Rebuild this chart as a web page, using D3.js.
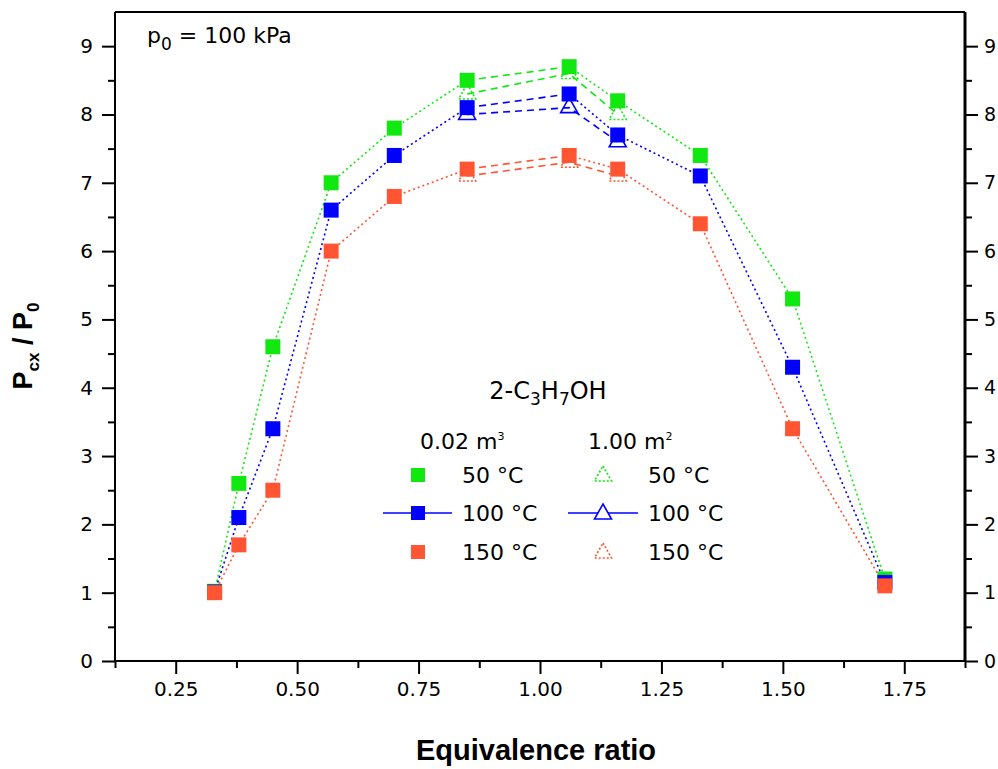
<!DOCTYPE html>
<html>
<head>
<meta charset="utf-8">
<script src="https://cdn.jsdelivr.net/npm/d3@7/dist/d3.min.js"></script>
<style>
  html, body { margin: 0; padding: 0; background: #fff; }
  svg { display: block; }
  text { font-family: "DejaVu Sans", sans-serif; fill: #000; }
</style>
</head>
<body>
<svg id="chart" width="998" height="769"></svg>
<script>
// ---- data ----
const phi = [0.33, 0.38, 0.45, 0.57, 0.70, 0.85, 1.06, 1.16, 1.33, 1.52, 1.71];
const sq50  = [1.02, 2.6, 4.6, 7.0, 7.8, 8.5, 8.7, 8.2, 7.4, 5.3, 1.2];
const sq100 = [1.01, 2.1, 3.4, 6.6, 7.4, 8.1, 8.3, 7.7, 7.1, 4.3, 1.15];
const sq150 = [1.0, 1.7, 2.5, 6.0, 6.8, 7.2, 7.4, 7.2, 6.4, 3.4, 1.1];

const phiTri = [0.85, 1.06, 1.16];
const tri50  = [8.3, 8.6, 8.0];
const tri100 = [8.0, 8.1, 7.6];
const tri150 = [7.1, 7.3, 7.1];

const xTicks = [0.25, 0.50, 0.75, 1.00, 1.25, 1.50, 1.75];
const xMinor = [0.125, 0.375, 0.625, 0.875, 1.125, 1.375, 1.625, 1.875];
const yTicks = [0, 1, 2, 3, 4, 5, 6, 7, 8, 9];
const yMinor = [0.5, 1.5, 2.5, 3.5, 4.5, 5.5, 6.5, 7.5, 8.5];

const temps = ["50 °C", "100 °C", "150 °C"];
const colors = ["#10e810", "#0000ff", "#ff5533"];

// ---- layout ----
const svg = d3.select("#chart");
const L = 115, R = 965, T = 12, B = 661;
const x = d3.scaleLinear().domain([0.125, 1.875]).range([L, R]);
const y = d3.scaleLinear().domain([0, 9.5]).range([B, T]);

// axes
function styleAxis(g, fs) {
  g.select(".domain").remove();
  g.selectAll(".tick line").attr("stroke", "#000").attr("stroke-width", 2);
  g.selectAll(".tick text").style("font-family", "'DejaVu Sans', sans-serif").style("font-size", fs + "px").attr("fill", "#000");
}
const gx = svg.append("g").attr("transform", `translate(0,${B})`)
  .call(d3.axisBottom(x).tickValues(xTicks).tickFormat(d3.format(".2f")).tickSize(13).tickPadding(8));
styleAxis(gx, 20);
const gxm = svg.append("g").attr("transform", `translate(0,${B})`)
  .call(d3.axisBottom(x).tickValues(xMinor).tickFormat("").tickSize(7));
styleAxis(gxm, 20);

const gy = svg.append("g").attr("transform", `translate(${L},0)`)
  .call(d3.axisLeft(y).tickValues(yTicks).tickSize(13).tickPadding(9));
styleAxis(gy, 20);
const gym = svg.append("g").attr("transform", `translate(${L},0)`)
  .call(d3.axisLeft(y).tickValues(yMinor).tickFormat("").tickSize(7));
styleAxis(gym, 20);

const gr = svg.append("g").attr("transform", `translate(${R},0)`)
  .call(d3.axisRight(y).tickValues(yTicks).tickSize(13).tickPadding(6));
styleAxis(gr, 19);
const grm = svg.append("g").attr("transform", `translate(${R},0)`)
  .call(d3.axisRight(y).tickValues(yMinor).tickFormat("").tickSize(7));
styleAxis(grm, 20);

// frame lines
svg.append("line").attr("x1", L).attr("x2", R).attr("y1", B).attr("y2", B).attr("stroke", "#000").attr("stroke-width", 2);
svg.append("line").attr("x1", L).attr("x2", R).attr("y1", T).attr("y2", T).attr("stroke", "#000").attr("stroke-width", 2);
svg.append("line").attr("x1", L).attr("x2", L).attr("y1", T).attr("y2", B).attr("stroke", "#000").attr("stroke-width", 2);
svg.append("line").attr("x1", R).attr("x2", R).attr("y1", T).attr("y2", B).attr("stroke", "#000").attr("stroke-width", 3);

// ---- series ----
const sqSeries = [sq50, sq100, sq150];
const triSeries = [tri50, tri100, tri150];
const plot = svg.append("g");

sqSeries.forEach((vals, k) => {
  for (let i = 0; i < phi.length - 1; i++) {
    const dashed = phi[i] >= 0.85 && phi[i + 1] <= 1.06;
    plot.append("line")
      .attr("x1", x(phi[i])).attr("y1", y(vals[i]))
      .attr("x2", x(phi[i + 1])).attr("y2", y(vals[i + 1]))
      .attr("stroke", colors[k]).attr("stroke-width", 1.6)
      .attr("stroke-dasharray", dashed ? "7,5" : "2,3");
  }
});
triSeries.forEach((vals, k) => {
  plot.append("path")
    .datum(vals.map((v, i) => [phiTri[i], v]))
    .attr("d", d3.line().x(d => x(d[0])).y(d => y(d[1])))
    .attr("fill", "none").attr("stroke", colors[k]).attr("stroke-width", 1.6)
    .attr("stroke-dasharray", "7,5");
});

const sq = 15;
sqSeries.forEach((vals, k) => {
  plot.selectAll(null).data(vals.map((v, i) => [phi[i], v])).enter()
    .append("rect")
    .attr("x", d => x(d[0]) - sq / 2).attr("y", d => y(d[1]) - sq / 2)
    .attr("width", sq).attr("height", sq)
    .attr("fill", colors[k]);
});

const triPath = "M0,-10L8.5,5L-8.5,5Z";
triSeries.forEach((vals, k) => {
  plot.selectAll(null).data(vals.map((v, i) => [phiTri[i], v])).enter()
    .append("path")
    .attr("d", triPath)
    .attr("transform", d => `translate(${x(d[0])},${y(d[1])})`)
    .attr("fill", "none").attr("stroke", colors[k]).attr("stroke-width", 1.6)
    .attr("stroke-dasharray", k === 1 ? null : "2,2");
});

// ---- annotations ----
const p0 = svg.append("text").attr("x", 147).attr("y", 43).style("font-size", "22px");
p0.append("tspan").text("p");
p0.append("tspan").attr("dy", 7).style("font-size", "17px").text("0");
p0.append("tspan").attr("dy", -7).text(" = 100 kPa");

const title = svg.append("text").attr("x", 548).attr("y", 399).attr("text-anchor", "middle").style("font-size", "24px");
title.append("tspan").text("2-C");
title.append("tspan").attr("dy", 6).style("font-size", "17px").text("3");
title.append("tspan").attr("dy", -6).text("H");
title.append("tspan").attr("dy", 6).style("font-size", "17px").text("7");
title.append("tspan").attr("dy", -6).text("OH");

const h1 = svg.append("text").attr("x", 420).attr("y", 449).style("font-size", "22px");
h1.append("tspan").text("0.02 m");
h1.append("tspan").attr("dy", -9).style("font-size", "11px").text("3");
const h2 = svg.append("text").attr("x", 588).attr("y", 449).style("font-size", "22px");
h2.append("tspan").text("1.00 m");
h2.append("tspan").attr("dy", -9).style("font-size", "11px").text("2");

const rowY = [475, 513, 552];
temps.forEach((t, k) => {
  const cy = rowY[k];
  if (k === 1) {
    svg.append("line").attr("x1", 383).attr("x2", 452).attr("y1", cy).attr("y2", cy).attr("stroke", colors[k]).attr("stroke-width", 1.6);
    svg.append("line").attr("x1", 568).attr("x2", 638).attr("y1", cy).attr("y2", cy).attr("stroke", colors[k]).attr("stroke-width", 1.6);
  }
  svg.append("rect").attr("x", 418 - 7).attr("y", cy - 7).attr("width", 14).attr("height", 14).attr("fill", colors[k]);
  svg.append("path").attr("d", triPath).attr("transform", `translate(603,${cy + 1})`)
    .attr("fill", k === 1 ? "#fff" : "none").attr("stroke", colors[k]).attr("stroke-width", 1.6)
    .attr("stroke-dasharray", k === 1 ? null : "2,2");
  svg.append("text").attr("x", 462).attr("y", cy + 8).style("font-size", "22px").text(t);
  svg.append("text").attr("x", 648).attr("y", cy + 8).style("font-size", "22px").text(t);
});

// axis titles
svg.append("text").attr("x", 536).attr("y", 760).attr("text-anchor", "middle")
  .style("font-family", "'Liberation Sans', Arial, sans-serif").style("font-weight", "bold").style("font-size", "29px")
  .text("Equivalence ratio");

const yl = svg.append("text").attr("transform", "translate(32,346) rotate(-90)").attr("text-anchor", "middle")
  .style("font-family", "'Liberation Sans', Arial, sans-serif").style("font-weight", "bold").style("font-size", "27px");
yl.append("tspan").text("P");
yl.append("tspan").attr("dy", 7).style("font-size", "17px").text("cx");
yl.append("tspan").attr("dy", -7).text(" / P");
yl.append("tspan").attr("dy", 7).style("font-size", "17px").text("0");
</script>
</body>
</html>
